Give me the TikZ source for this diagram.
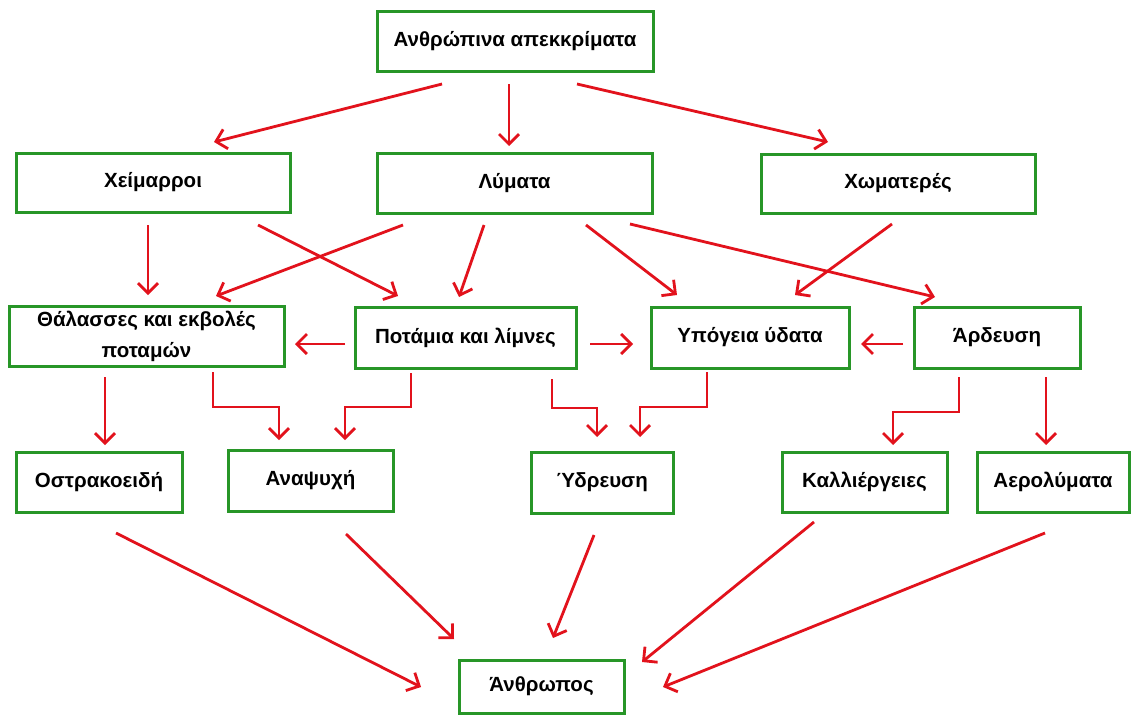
\documentclass[tikz,border=0pt]{standalone}
\usepackage{fontspec}
\setmainfont{Liberation Sans}
\usetikzlibrary{arrows.meta}
\definecolor{boxgreen}{RGB}{40,150,40}
\definecolor{arrred}{RGB}{226,18,28}
\begin{document}
\begin{tikzpicture}[x=1pt,y=-1pt,
  box/.style={draw=boxgreen, line width=3pt, fill=white, inner sep=0pt, align=center,
    font=\fontsize{20.5}{31}\selectfont\bfseries},
  arr/.style={draw=arrred, line width=2.8pt, -{Straight Barb[length=10pt,width=20pt]}}]
\useasboundingbox (0,0) rectangle (1132,720);
\fill[white] (0,0) rectangle (1132,720);
% boxes
\node[box, minimum width=276pt, minimum height=60pt] (top)  at (515,41)    {Ανθρώπινα απεκκρίματα};
\node[box, minimum width=274pt, minimum height=59pt] (xeim) at (153,182.5) {Χείμαρροι};
\node[box, minimum width=275pt, minimum height=60pt] (lym)  at (514.5,183) {Λύματα};
\node[box, minimum width=274pt, minimum height=59pt] (xom)  at (898,183.5) {Χωματερές};
\node[box, minimum width=275pt, minimum height=60pt] (thal) at (146.5,336) {Θάλασσες και εκβολές\\ποταμών};
\node[box, minimum width=221pt, minimum height=61pt] (pot)  at (465.5,337.5) {Ποτάμια και λίμνες};
\node[box, minimum width=198pt, minimum height=61pt] (ypo)  at (750,337.5) {Υπόγεια ύδατα};
\node[box, minimum width=166pt, minimum height=61pt] (ard)  at (997,337.5) {Άρδευση};
\node[box, minimum width=166pt, minimum height=60pt] (ostr) at (99,482)    {Οστρακοειδή};
\node[box, minimum width=165pt, minimum height=61pt] (anap) at (310.5,480.5) {Αναψυχή};
\node[box, minimum width=142pt, minimum height=61pt] (ydr)  at (602,482.5) {Ύδρευση};
\node[box, minimum width=165pt, minimum height=60pt] (kall) at (864.5,482) {Καλλιέργειες};
\node[box, minimum width=152pt, minimum height=60pt] (aer)  at (1053,482)  {Αερολύματα};
\node[box, minimum width=165pt, minimum height=53pt] (anth) at (541.5,686.5) {Άνθρωπος};
% arrows level 1
\draw[arr] ([shift={(-73,43)}]top.center) -- ([shift={(61,-40.5)}]xeim.center);
\draw[arr] ([shift={(-6,43)}]top.center) -- ([shift={(-5.5,-37)}]lym.center);
\draw[arr] ([shift={(62,43)}]top.center) -- ([shift={(-70,-41.5)}]xom.center);
% level 2
\draw[arr] ([shift={(-5,42.5)}]xeim.center) -- ([shift={(1.5,-41)}]thal.center);
\draw[arr] ([shift={(105,42.5)}]xeim.center) -- ([shift={(-67.5,-41.5)}]pot.center);
\draw[arr] ([shift={(-111.5,42)}]lym.center) -- ([shift={(69.5,-40)}]thal.center);
\draw[arr] ([shift={(-30.5,42)}]lym.center) -- ([shift={(-6.5,-40.5)}]pot.center);
\draw[arr] ([shift={(71.5,42)}]lym.center) -- ([shift={(-73,-42.5)}]ypo.center);
\draw[arr] ([shift={(115.5,41)}]lym.center) -- ([shift={(-62,-40.5)}]ard.center);
\draw[arr] ([shift={(-6,40.5)}]xom.center) -- ([shift={(45,-42.5)}]ypo.center);
% horizontal
\draw[arr] ([shift={(-120.5,6.5)}]pot.center) -- ([shift={(148.5,8)}]thal.center);
\draw[arr] ([shift={(124.5,6.5)}]pot.center) -- ([shift={(-117,6.5)}]ypo.center);
\draw[arr] ([shift={(-94,6.5)}]ard.center) -- ([shift={(111,6.5)}]ypo.center);
% level 3
\draw[arr] ([shift={(-41.5,41)}]thal.center) -- ([shift={(6,-37)}]ostr.center);
\draw[arr] ([shift={(66.5,36)}]thal.center) -- ++(0,35) -| ([shift={(-31.5,-40.5)}]anap.center);
\draw[arr] ([shift={(-54.5,35.5)}]pot.center) -- ++(0,34) -| ([shift={(34.5,-40.5)}]anap.center);
\draw[arr] ([shift={(86.5,41.5)}]pot.center) -- ++(0,29) -| ([shift={(-5,-45.5)}]ydr.center);
\draw[arr] ([shift={(-43,34.5)}]ypo.center) -- ++(0,35) -| ([shift={(38,-45.5)}]ydr.center);
\draw[arr] ([shift={(-38,39.5)}]ard.center) -- ++(0,35) -| ([shift={(28.5,-37)}]kall.center);
\draw[arr] ([shift={(49,39.5)}]ard.center) -- ([shift={(-7,-37)}]aer.center);
% to Anthropos
\draw[arr] ([shift={(17,51)}]ostr.center) -- ([shift={(-120.5,0.5)}]anth.center);
\draw[arr] ([shift={(35.5,53.5)}]anap.center) -- ([shift={(-87.5,-47.5)}]anth.center);
\draw[arr] ([shift={(-8,52.5)}]ydr.center) -- ([shift={(11.5,-48.5)}]anth.center);
\draw[arr] ([shift={(-50.5,40)}]kall.center) -- ([shift={(100.5,-24.5)}]anth.center);
\draw[arr] ([shift={(-8,51)}]aer.center) -- ([shift={(121.5,0.5)}]anth.center);
\end{tikzpicture}
\end{document}
